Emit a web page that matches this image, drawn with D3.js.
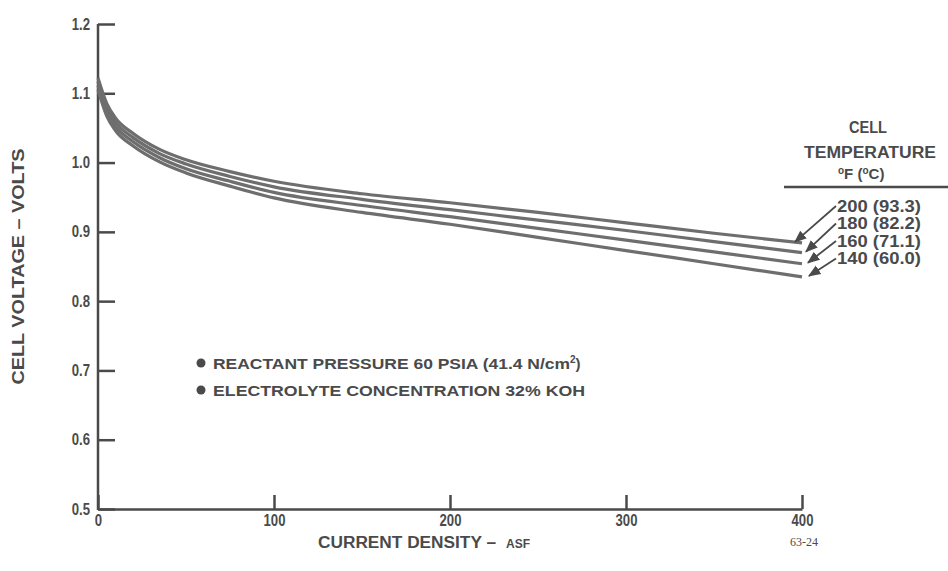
<!DOCTYPE html>
<html>
<head>
<meta charset="utf-8">
<script src="https://cdn.jsdelivr.net/npm/d3@7"></script>
<style>
  body { margin: 0; background: #fff; }
  svg text { font-family: "Liberation Sans", Arial, sans-serif; font-weight: bold; fill: #4a4a4a; }
</style>
</head>
<body>
<svg id="main_chart" width="948" height="571"></svg>
<script>
(function() {
  // current density, ASF
  const current_density = [0, 5, 10, 20, 35, 50, 75, 100, 150, 200, 250, 300, 350, 400];
  // cell voltage per cell temperature
  const volts_200F = [1.122, 1.085, 1.064, 1.042, 1.019, 1.004, 0.987, 0.973, 0.955, 0.942, 0.928, 0.913, 0.898, 0.884];
  const volts_180F = [1.117, 1.079, 1.058, 1.036, 1.013, 0.998, 0.980, 0.965, 0.947, 0.932, 0.917, 0.902, 0.886, 0.870];
  const volts_160F = [1.111, 1.073, 1.052, 1.030, 1.007, 0.991, 0.973, 0.957, 0.938, 0.922, 0.905, 0.888, 0.871, 0.854];
  const volts_140F = [1.105, 1.067, 1.046, 1.024, 1.001, 0.985, 0.966, 0.949, 0.928, 0.911, 0.892, 0.873, 0.854, 0.835];
  const temp_labels = ['200 (93.3)', '180 (82.2)', '160 (71.1)', '140 (60.0)'];
  const y_ticks = [0.5, 0.6, 0.7, 0.8, 0.9, 1.0, 1.1, 1.2];
  const x_ticks = [0, 100, 200, 300, 400];
  const notes = ['REACTANT PRESSURE 60 PSIA (41.4 N/cm', 'ELECTROLYTE CONCENTRATION 32% KOH'];

  const series = [volts_200F, volts_180F, volts_160F, volts_140F];
  const ink = '#4a4a4a';
  const svg = d3.select('#main_chart');

  const xScale = d3.scaleLinear().domain([0, 400]).range([98, 802]);
  const yScale = d3.scaleLinear().domain([0.5, 1.2]).range([509, 24]);

  // axes
  const sx = 0.82;
  const yAxis = d3.axisLeft(yScale).tickValues(y_ticks).tickSize(-17).tickSizeOuter(0).tickPadding(7)
    .tickFormat(d3.format('.1f'));
  const gy = svg.append('g').attr('transform', 'translate(98,0)').call(yAxis);
  const xAxis = d3.axisBottom(xScale).tickValues(x_ticks).tickSize(-14).tickSizeOuter(0).tickPadding(6)
    .tickFormat(d3.format('d'));
  const gx = svg.append('g').attr('transform', 'translate(0,509)').call(xAxis);
  [gx, gy].forEach(function(g) {
    g.select('.domain').attr('stroke', ink).attr('stroke-width', 2.5);
    g.selectAll('.tick line').attr('stroke', ink).attr('stroke-width', 2.5);
    g.selectAll('.tick text').style('font-size', '16px').attr('fill', ink)
      .attr('transform', 'scale(' + sx + ',1)');
  });
  gy.selectAll('.tick text').attr('x', -8 / sx);
  gy.select('.domain').attr('d', 'M0,' + yScale(1.2) + 'V' + (yScale(0.5) + 1));

  // curves
  const line = d3.line()
    .x(function(d, i) { return xScale(current_density[i]); })
    .y(function(d) { return yScale(d); })
    .curve(d3.curveMonotoneX);
  svg.append('g').selectAll('path.curve').data(series).enter().append('path')
    .attr('class', 'curve')
    .attr('d', line)
    .attr('fill', 'none')
    .attr('stroke', '#6e6e6e')
    .attr('stroke-width', 3.2);

  // axis titles
  svg.append('text')
    .attr('transform', 'translate(24,' + yScale(0.85) + ') rotate(-90)')
    .attr('text-anchor', 'middle')
    .attr('textLength', 236).attr('lengthAdjust', 'spacingAndGlyphs')
    .style('font-size', '16px')
    .text('CELL VOLTAGE \u2013 VOLTS');
  const xt = svg.append('text').attr('x', 318).attr('y', 548).style('font-size', '16px');
  xt.append('tspan').attr('textLength', 178).attr('lengthAdjust', 'spacingAndGlyphs').text('CURRENT DENSITY \u2013');
  xt.append('tspan').attr('dx', 10).style('font-size', '12px').text('ASF');
  svg.append('text').attr('x', 790).attr('y', 546)
    .style('font-family', '"Liberation Serif", serif').style('font-weight', 'normal').style('font-size', '12px')
    .text('63-24');

  // notes
  const note_g = svg.append('g');
  note_g.selectAll('circle').data(notes).enter().append('circle')
    .attr('cx', 201).attr('cy', function(d, i) { return 363 + i * 27; })
    .attr('r', 4.5).attr('fill', ink);
  const nt = note_g.selectAll('text').data(notes).enter().append('text')
    .attr('x', 213).attr('y', function(d, i) { return 368.5 + i * 27; })
    .style('font-size', '15px');
  nt.append('tspan').attr('lengthAdjust', 'spacingAndGlyphs')
    .attr('textLength', function(d, i) { return i === 0 ? 357 : 372; }).text(function(d) { return d; });
  nt.filter(function(d, i) { return i === 0; }).append('tspan')
    .attr('dy', -6).style('font-size', '10px').text('2');
  nt.filter(function(d, i) { return i === 0; }).append('tspan')
    .attr('dy', 6).text(')');

  // temperature key
  const key = svg.append('g');
  key.append('text').attr('x', 868).attr('y', 133).attr('text-anchor', 'middle')
    .attr('textLength', 38).attr('lengthAdjust', 'spacingAndGlyphs').style('font-size', '16px').text('CELL');
  key.append('text').attr('x', 870).attr('y', 158).attr('text-anchor', 'middle')
    .attr('textLength', 132).attr('lengthAdjust', 'spacingAndGlyphs').style('font-size', '16px').text('TEMPERATURE');
  const deg = key.append('text').attr('x', 838).attr('y', 179).style('font-size', '15px');
  deg.append('tspan').attr('dy', -5).style('font-size', '10px').text('o');
  deg.append('tspan').attr('dy', 5).text('F  (');
  deg.append('tspan').attr('dy', -5).style('font-size', '10px').text('o');
  deg.append('tspan').attr('dy', 5).text('C)');
  key.append('line').attr('x1', 784).attr('x2', 948).attr('y1', 187).attr('y2', 187)
    .attr('stroke', ink).attr('stroke-width', 2.5);
  key.selectAll('text.temp').data(temp_labels).enter().append('text')
    .attr('class', 'temp')
    .attr('x', 837).attr('y', function(d, i) { return 211.5 + i * 17.5; })
    .attr('textLength', 84).attr('lengthAdjust', 'spacingAndGlyphs')
    .style('font-size', '16px')
    .text(function(d) { return d; });

  // leader arrows from labels to curve ends
  svg.append('defs').append('marker')
    .attr('id', 'arrow').attr('viewBox', '0 0 10 10').attr('refX', 9).attr('refY', 5)
    .attr('markerWidth', 7).attr('markerHeight', 7).attr('orient', 'auto-start-reverse')
    .append('path').attr('d', 'M0,1L10,5L0,9Z').attr('fill', ink);
  const tip_dx = [-7, 4, 6, 7];
  key.selectAll('line.leader').data(series).enter().append('line')
    .attr('class', 'leader')
    .attr('x1', 836).attr('y1', function(d, i) { return 206 + i * 17.5; })
    .attr('x2', function(d, i) { return xScale(400) + tip_dx[i]; })
    .attr('y2', function(d) { return yScale(d[d.length - 1]) - 1; })
    .attr('stroke', ink).attr('stroke-width', 1.8)
    .attr('marker-end', 'url(#arrow)');
}());
</script>
</body>
</html>
